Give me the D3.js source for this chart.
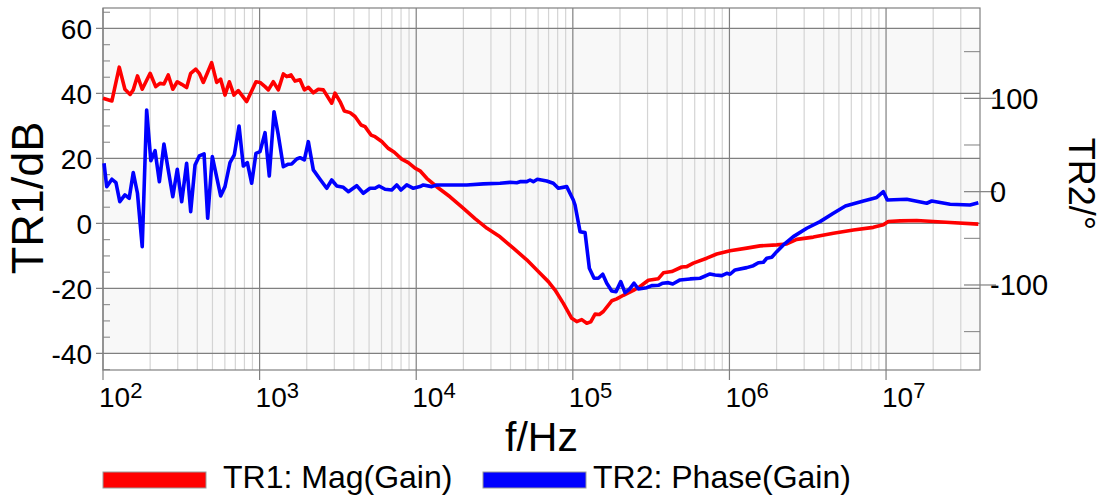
<!DOCTYPE html>
<html>
<head>
<meta charset="utf-8">
<script src="https://cdn.jsdelivr.net/npm/d3@7"></script>
<style>
  html, body { margin: 0; padding: 0; background: #fff; }
  svg { display: block; font-family: "Liberation Sans", Arial, sans-serif; }
</style>
</head>
<body>
<div id="chart"></div>
<script>
// frequency (Hz) and magnitude (dB) of TR1
const magFreq = [100, 114, 127, 138, 149, 156, 166, 178, 200, 217, 231, 245, 261, 279, 298, 318, 342, 363, 391, 412,
  437, 463, 494, 532, 564, 601, 641, 686, 731, 827, 948, 1006, 1083, 1137, 1223, 1316, 1417, 1490, 1587, 1683,
  1811, 1930, 2047, 2203, 2371, 2552, 2887, 3030, 3262, 3475, 3779, 4067, 4443, 4711, 5145, 5457, 6022, 6637, 7248, 8079,
  8904, 9825, 10575, 11670, 13520, 16440, 19610, 23740, 28330, 34290, 41690, 50780, 61740, 69780, 76990, 86990, 98400,
  105900, 114000, 122700, 130100, 138700, 147700, 156600, 177200, 190700, 210200, 243400, 268600, 303500, 351600,
  378500, 428100, 495900, 533800, 588200, 716200, 829800, 1.009e6, 1.29e6, 1.568e6, 2.004e6, 2.322e6, 2.69e6,
  3.434e6, 4.608e6, 6.184e6, 8.297e6, 9.612e6, 1.034e7, 1.229e7, 1.571e7, 2.564e7, 3.885e7];
const magDb = [38.5, 37.7, 48.1, 41.3, 39.7, 41.1, 45.4, 41.3, 46.2, 42.1, 43.1, 42.9, 45.7, 41.3, 43.6, 42.8, 41.8, 46.2, 47.5, 46.2,
  43.4, 46.2, 49.5, 43.4, 44.4, 39.5, 43.6, 39.5, 40.9, 37.5, 43.6, 43.4, 42.1, 41.1, 43.6, 41.1, 46.0, 45.2, 45.7, 43.8,
  44.2, 41.1, 41.9, 40.2, 41.3, 41.1, 37.0, 40.1, 37.5, 34.6, 34.1, 32.9, 30.3, 29.8, 27.2, 26.7, 25.2, 23.1, 21.9, 19.8,
  18.7, 17.0, 16.2, 13.9, 11.3, 8.2, 5.0, 1.5, -1.5, -4.1, -7.6, -11.2, -15.3, -17.9, -20.5, -24.6, -29.2,
  -30.2, -29.6, -30.7, -30.3, -27.9, -28.0, -27.1, -23.8, -23.2, -22.1, -20.6, -19.4, -17.5, -17.0,
  -15.2, -14.8, -13.4, -13.3, -12.2, -10.7, -9.4, -8.4, -7.6, -6.9, -6.6, -6.3, -4.9,
  -4.2, -3.0, -2.0, -1.2, -0.4, 0.6, 0.8, 0.9, 0.3, -0.2];

// frequency (Hz) and phase (deg) of TR2
const phaseFreq = [101.5, 105.6, 114, 121, 128, 138, 147, 156, 166, 178, 190, 202, 215, 229, 245, 261, 279, 298, 318, 342,
  363, 387, 412, 442, 466, 499, 564, 601, 647, 689, 739, 787, 835, 890, 948, 1006, 1083, 1153, 1236, 1316,
  1417, 1525, 1603, 1726, 1811, 1930, 2047, 2203, 2431, 2682, 2887, 3107, 3424, 3686, 4169, 4594, 5070, 5457, 5788, 6324,
  6976, 7508, 7997, 8698, 9583, 10575, 11100, 12560, 13520, 16440, 21010, 26820, 34290, 39720, 43840, 46010, 50780, 53310,
  55950, 59340, 68130, 75070, 80790, 91430, 100700, 103300, 111200, 119700, 127500, 136600, 145500, 155200, 164700,
  177200, 188700, 202300, 215400, 229600, 246000, 262000, 296500, 319000, 351600, 375200, 407200, 434500, 483600,
  560300, 649100, 751800, 809100, 892700, 961100, 1.009e6, 1.086e6, 1.29e6, 1.421e6, 1.53e6, 1.647e6, 1.731e6,
  1.863e6, 2.004e6, 2.21e6, 2.559e6, 3.117e6, 3.789e6, 4.608e6, 5.504e6, 7.172e6, 8.724e6, 9.612e6, 1.019e7,
  1.356e7, 1.819e7, 1.958e7, 2.564e7, 3.44e7, 3.885e7];
const phaseDeg = [30.4, 5.4, 13.3, 9.6, -10.7, -3.5, -7.1, 20.4, -1.7, -58.9, 87.5, 33.2, 43.9, 10.7, 51.1, 23.3, -5.4, 24.0, -10.7, 30.4,
  -21.4, 28.6, 38.3, 40.4, -28.5, 37.5, -4.6, 5.4, 31.1, 39.3, 70.4, 27.5, 31.1, 9.0, 41.1, 42.9, 63.2, 16.8, 85.7, 60.8,
  26.8, 29.4, 29.7, 35.0, 36.4, 34.0, 53.6, 23.3, 13.3, 3.6, 12.5, 6.1, 4.7, 0, 6.4, -1.7, 3.6, 3.6, 6.1, 2.6,
  1.8, 7.2, 1.8, 7.2, 3.6, 5.4, 7.2, 5.4, 7.2, 7.2, 7.2, 8.3, 9.0, 10.0, 9.6, 10.7, 10.7, 12.5,
  10.7, 13.3, 11.5, 9.0, 3.6, 5.4, -8.9, -14.3, -42.9, -43.9, -82.1, -92.8, -92.8, -88.5, -98.1,
  -106.4, -107.1, -96.4, -108.2, -104.6, -98.1, -104.3, -102.9, -100.7, -100.3, -98.1, -97.5, -98.9, -94.6,
  -93.5, -92.8, -88.2, -89.3, -90.0, -87.5, -88.5, -83.9, -81.4, -79.3, -76.1, -75.6, -71.4,
  -70.3, -64.3, -57.1, -48.2, -39.2, -32.1, -23.1, -15.3, -10.0, -6.2, 0, -8.9,
  -8.1, -12.4, -10.0, -13.5, -14.3, -11.8];

const leftTicks = [-40, -20, 0, 20, 40, 60];
const rightTicks = [-100, 0, 100];
const decadeExps = [2, 3, 4, 5, 6, 7];
const seriesNames = ["TR1: Mag(Gain)", "TR2: Phase(Gain)"];
const seriesColors = ["#ff0000", "#0000ff"];

const W = 1105, H = 500;
const margin = { top: 8, right: 125, bottom: 130, left: 103 };
const width = W - margin.left - margin.right;
const height = H - margin.top - margin.bottom;

const x = d3.scaleLog().domain([100, 3.98e7]).range([0, width]);
const y = d3.scaleLinear().domain([-45.1, 66.3]).range([height, 0]);
const y2 = d3.scaleLinear().domain([-191.1, 196.8]).range([height, 0]);

const svg = d3.select("#chart").append("svg")
  .attr("width", W).attr("height", H)
  .attr("viewBox", [0, 0, W, H]);

const g = svg.append("g").attr("transform", `translate(${margin.left},${margin.top})`);

// alternating bands
const bands = [[40, 60], [0, 20], [-40, -20]];
g.append("g").selectAll("rect").data(bands).join("rect")
  .attr("x", 0).attr("width", width)
  .attr("y", (d) => y(d[1])).attr("height", (d) => y(d[0]) - y(d[1]))
  .attr("fill", "#f8f8f8");

// vertical grid
const minorX = [];
for (let e = 2; e <= 7; e++) for (let m = 2; m <= 9; m++) { const v = m * 10 ** e; if (v <= 3.98e7) minorX.push(v); }
g.append("g").selectAll("line").data(minorX).join("line")
  .attr("x1", (d) => x(d)).attr("x2", (d) => x(d)).attr("y1", 0).attr("y2", height)
  .attr("stroke", "#d4d4d4").attr("stroke-width", 1.2);
g.append("g").selectAll("line").data(decadeExps).join("line")
  .attr("x1", (d) => x(10 ** d)).attr("x2", (d) => x(10 ** d)).attr("y1", 0).attr("y2", height + 10)
  .attr("stroke", "#808080").attr("stroke-width", 1.2);

// horizontal grid
g.append("g").selectAll("line").data(leftTicks).join("line")
  .attr("x1", -7).attr("x2", width).attr("y1", (d) => y(d)).attr("y2", (d) => y(d))
  .attr("stroke", "#808080").attr("stroke-width", 1.2);

// left minor ticks (inside)
const leftMinor = d3.range(-45, 66, 5).filter((d) => d % 20 !== 0);
g.append("g").selectAll("line").data(leftMinor).join("line")
  .attr("x1", 0).attr("x2", 7).attr("y1", (d) => y(d)).attr("y2", (d) => y(d))
  .attr("stroke", "#808080");

// right ticks
const rightMinor = [-150, -50, 50, 150];
g.append("g").selectAll("line").data(rightMinor).join("line")
  .attr("x1", width - 16).attr("x2", width).attr("y1", (d) => y2(d)).attr("y2", (d) => y2(d))
  .attr("stroke", "#808080");
g.append("g").selectAll("line").data(rightTicks).join("line")
  .attr("x1", width - 16).attr("x2", width + 16).attr("y1", (d) => y2(d)).attr("y2", (d) => y2(d))
  .attr("stroke", "#808080").attr("stroke-width", 1.2);

// border
g.append("rect").attr("width", width).attr("height", height)
  .attr("fill", "none").attr("stroke", "#808080").attr("stroke-width", 1.2);

// lines
const magData = magFreq.map((f, i) => [f, magDb[i]]);
const phaseData = phaseFreq.map((f, i) => [f, phaseDeg[i]]);
g.append("path").datum(magData)
  .attr("fill", "none").attr("stroke", seriesColors[0]).attr("stroke-width", 3.6).attr("stroke-linejoin", "round")
  .attr("d", d3.line().x((d) => x(d[0])).y((d) => y(d[1])));
g.append("path").datum(phaseData)
  .attr("fill", "none").attr("stroke", seriesColors[1]).attr("stroke-width", 3.6).attr("stroke-linejoin", "round")
  .attr("d", d3.line().x((d) => x(d[0])).y((d) => y2(d[1])));

// left labels
g.append("g").selectAll("text").data(leftTicks).join("text")
  .attr("x", -11).attr("y", (d) => y(d)).attr("dy", "0.36em")
  .attr("text-anchor", "end").attr("font-size", 28)
  .text((d) => d);

// right labels
g.append("g").selectAll("text").data(rightTicks).join("text")
  .attr("x", width + 10).attr("y", (d) => y2(d)).attr("dy", "0.36em")
  .attr("font-size", 29)
  .text((d) => d);

// x labels 10^n
const xl = g.append("g").selectAll("text").data(decadeExps).join("text")
  .attr("x", (d) => x(10 ** d) - 4).attr("y", height + 37)
  .attr("font-size", 28);
xl.append("tspan").text("10");
xl.append("tspan").attr("dy", -9).attr("font-size", 22).text((d) => d);

// axis titles
g.append("text").attr("x", width / 2).attr("y", 443)
  .attr("text-anchor", "middle").attr("font-size", 41).text("f/Hz");
svg.append("text").attr("transform", "translate(43,198) rotate(-90)")
  .attr("text-anchor", "middle").attr("font-size", 45).text("TR1/dB");
svg.append("text").attr("transform", "translate(1069,184) rotate(90)")
  .attr("text-anchor", "middle").attr("font-size", 36).text("TR2/°");

// legend
const legX = [103, 483];
const leg = svg.append("g").selectAll("g").data(seriesNames).join("g")
  .attr("transform", (d, i) => `translate(${legX[i]},472)`);
leg.append("rect").attr("width", 103).attr("height", 16)
  .attr("fill", (d, i) => seriesColors[i]).attr("stroke", "#999");
leg.append("text").attr("x", (d, i) => (i === 0 ? 120 : 110)).attr("y", 16)
  .attr("font-size", 32).text((d) => d);
</script>
</body>
</html>
